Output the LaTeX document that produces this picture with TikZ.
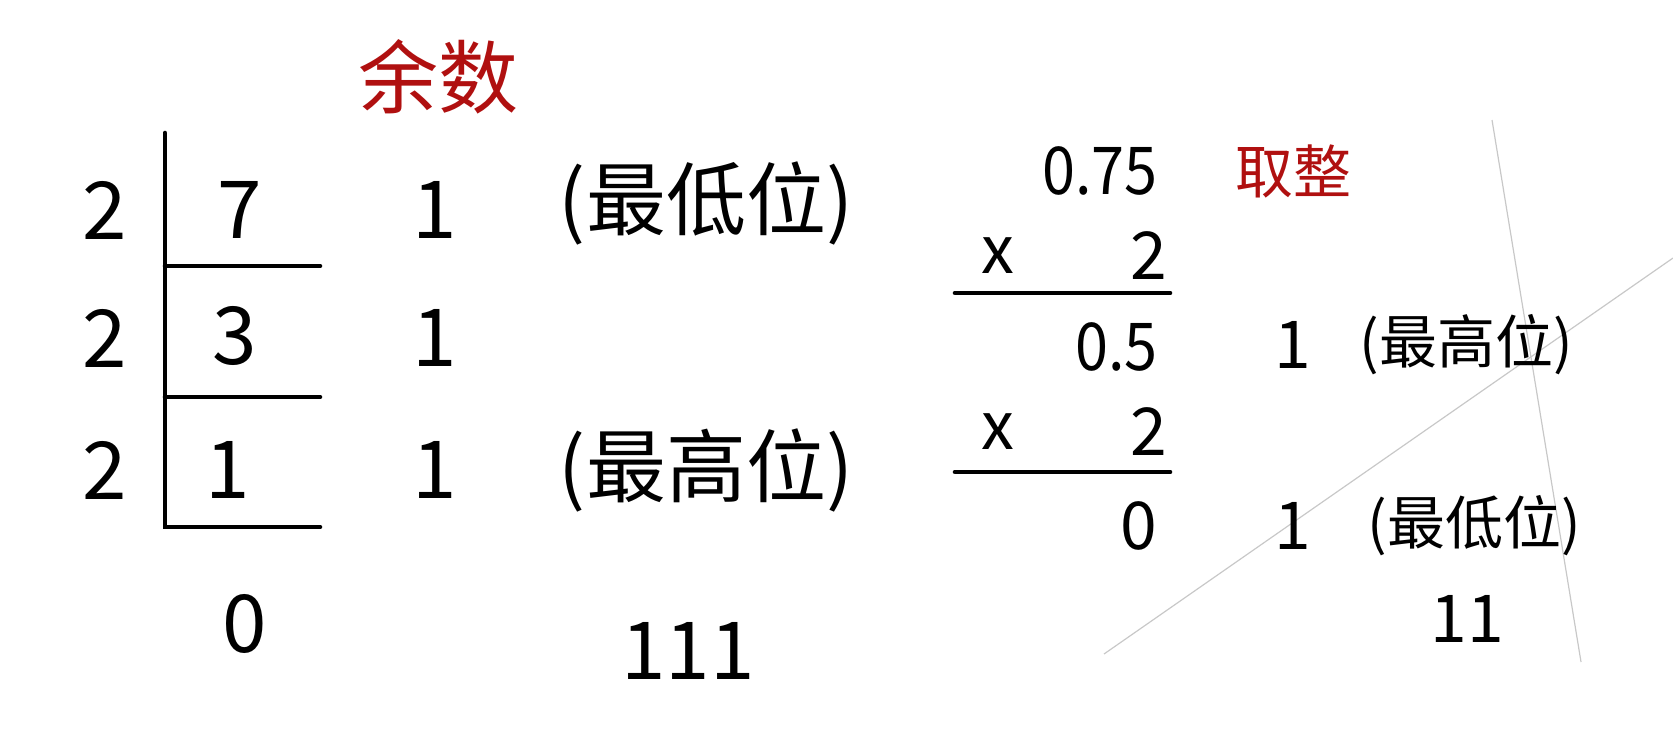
\documentclass[tikz,border=0pt]{standalone}
\usepackage{fontspec}
\setmainfont{Noto Sans CJK SC}
\definecolor{redtitle}{HTML}{B01010}
\definecolor{faint}{HTML}{C8C8C8}
\begin{document}
\begin{tikzpicture}[x=0.5pt,y=-0.5pt,
  big/.style={inner sep=0pt,font=\fontsize{40}{48}\selectfont},
  mid/.style={inner sep=0pt,font=\fontsize{33}{40}\selectfont},
  small/.style={inner sep=0pt,font=\fontsize{29}{35}\selectfont},
  title/.style={inner sep=0pt,text=redtitle},
  rule/.style={line width=2.3pt,line cap=round}]
\useasboundingbox (0,0) rectangle (1673,729);
% faint guide lines
\coordinate (g1a) at (1492,120);
\coordinate (g1b) at (1581,662);
\coordinate (g2a) at (1104,654);
\coordinate (g2b) at (1673,258);
\draw[faint,line width=0.6pt] (g1a) -- (g1b);
\draw[faint,line width=0.6pt] (g2a) -- (g2b);
% left: division
\node[title,font=\fontsize{40}{48}\selectfont] (yushu) at (438,77) {余数};
\coordinate (vtop) at (165,133);
\coordinate (vbot) at (165,527);
\coordinate (h1l) at (165,266); \coordinate (h1r) at (320,266);
\coordinate (h2l) at (165,397); \coordinate (h2r) at (320,397);
\coordinate (h3r) at (320,527);
\draw[rule] (vtop) -- (vbot) -- (h3r);
\draw[rule] (h1l) -- (h1r);
\draw[rule] (h2l) -- (h2r);
\node[big] (d1) at (105,210) {2};
\node[big] (d2) at (105,338) {2};
\node[big] (d3) at (105,470) {2};
\node[big] (q1) at (240,210) {7};
\node[big] (q2) at (235,336) {3};
\node[big] (q3) at (228,470) {1};
\node[big] (q4) at (245,624) {0};
\node[big] (r1) at (435,210) {1};
\node[big] (r2) at (435,338) {1};
\node[big] (r3) at (435,470) {1};
\node[big] (lo) at (706,203) {(最低位)};
\node[big] (hi) at (706,470) {(最高位)};
\node[big] (res) at (688,651) {111};
% right: multiplication
\node[mid,anchor=east,xscale=0.9] (m1) at (1158,171) {0.75};
\node[title,font=\fontsize{29}{35}\selectfont] (quzheng) at (1293,171) {取整};
\node[mid] (x1) at (998,256) {x};
\node[mid,anchor=east] (t1) at (1168,256) {2};
\coordinate (l1l) at (955,293); \coordinate (l1r) at (1170,293);
\draw[rule] (l1l) -- (l1r);
\node[mid,anchor=east,xscale=0.9] (m2) at (1158,347) {0.5};
\node[mid] (x2) at (998,432) {x};
\node[mid,anchor=east] (t2) at (1168,432) {2};
\coordinate (l2l) at (955,472); \coordinate (l2r) at (1170,472);
\draw[rule] (l2l) -- (l2r);
\node[mid,anchor=east] (m3) at (1158,526) {0};
\node[mid] (b1) at (1293,345) {1};
\node[mid] (b2) at (1293,526) {1};
\node[small] (hi2) at (1466,345) {(最高位)};
\node[small] (lo2) at (1474,526) {(最低位)};
\node[mid] (res2) at (1467,619) {11};
\end{tikzpicture}
\end{document}
